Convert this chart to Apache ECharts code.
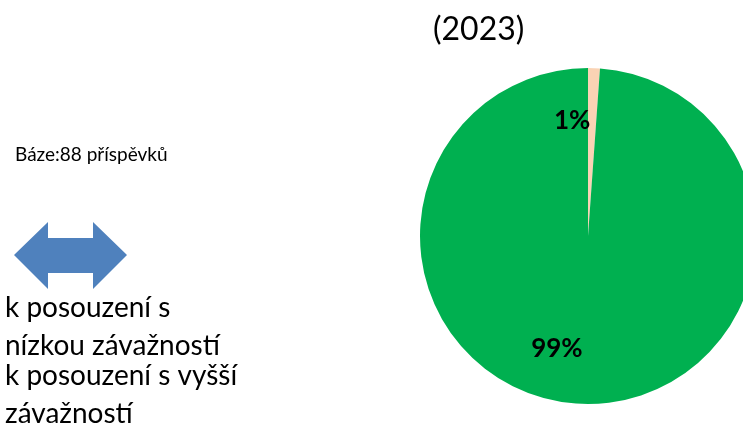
<!DOCTYPE html>
<html>
<head>
<meta charset="utf-8">
<script src="https://cdn.jsdelivr.net/npm/echarts@6/dist/echarts.min.js"></script>
<style>
  html, body { margin: 0; padding: 0; background: #fff; }
  #chart { width: 743px; height: 424px; }
</style>
</head>
<body>
<div id="chart"></div>
<script>
// data (base: 88 posts)
const categories = ['k posouzení s vyšší závažností', 'k posouzení s nízkou závažností']
const counts = [1, 87]
const sliceColors = ['#FAD3B4', '#00B050']
const labelOffsets = [[-19, -28], [-28, 26]]

const chart = echarts.init(document.getElementById('chart'))

const option = {
  backgroundColor: '#fff',
  animation: false,
  textStyle: { fontFamily: 'Lato' },
  title: {
    text: '(2023)',
    left: 428,
    top: 9,
    textStyle: { fontFamily: 'Lato', fontSize: 32, fontWeight: 'normal', color: '#000' }
  },
  graphic: [
    {
      type: 'text',
      left: 15,
      top: 145,
      style: { text: 'Báze:88 příspěvků', font: '19px Lato', fill: '#000' }
    },
    {
      type: 'polygon',
      shape: {
        points: [[14, 255], [48, 222], [48, 238], [93, 238], [93, 222], [127, 255],
                 [93, 289], [93, 273], [48, 273], [48, 289]]
      },
      style: { fill: '#4F81BD' }
    },
    {
      type: 'text',
      left: 5,
      top: 289,
      style: { text: 'k posouzení s\nnízkou závažností', font: '28px Lato', lineHeight: 38, fill: '#000' }
    },
    {
      type: 'text',
      left: 5,
      top: 357,
      style: { text: 'k posouzení s vyšší\nzávažností', font: '28px Lato', lineHeight: 38, fill: '#000' }
    }
  ],
  series: [{
    type: 'pie',
    center: [588, 236],
    radius: 168,
    startAngle: 90,
    clockwise: true,
    silent: true,
    data: categories.map((name, i) => ({
      name: name,
      value: counts[i],
      itemStyle: { color: sliceColors[i] },
      label: { offset: labelOffsets[i] }
    })),
    itemStyle: { borderWidth: 0 },
    label: {
      show: true,
      position: 'inside',
      formatter: (p) => Math.round(p.percent) + '%',
      fontFamily: 'Lato',
      fontSize: 26,
      fontWeight: 'bold',
      color: '#000'
    },
    labelLine: { show: false }
  }]
}

chart.setOption(option)
</script>
</body>
</html>
